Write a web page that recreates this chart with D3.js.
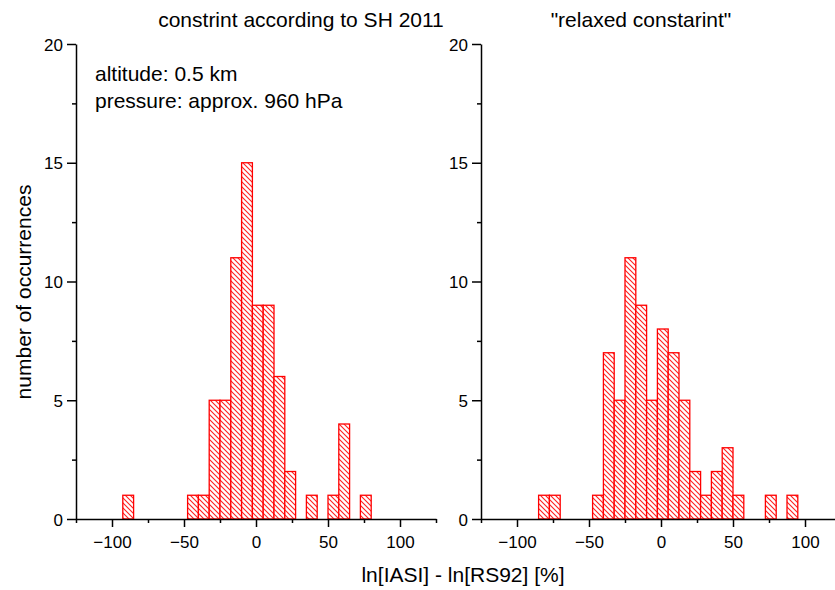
<!DOCTYPE html>
<html>
<head>
<meta charset="utf-8">
<script src="https://cdn.jsdelivr.net/npm/d3@7"></script>
<style>
html,body{margin:0;padding:0;background:#fff;}
text{font-family:"Liberation Sans",Arial,sans-serif;fill:#000;}
</style>
</head>
<body>
<svg id="chart" width="835" height="590"></svg>
<script>
// ---- data ----
const binWidth = 7.5;
const leftBinStart = [-92.5, -47.5, -40, -32.5, -25, -17.5, -10, -2.5, 5, 12.5, 20, 35, 50, 57.5, 72.5];
const leftCounts   = [1, 1, 1, 5, 5, 11, 15, 9, 9, 6, 2, 1, 1, 4, 1];
const rightBinStart = [-85, -77.5, -47.5, -40, -32.5, -25, -17.5, -10, -2.5, 5, 12.5, 20, 27.5, 35, 42.5, 50, 72.5, 87.5];
const rightCounts   = [1, 1, 1, 7, 5, 11, 9, 5, 8, 7, 5, 2, 1, 2, 3, 1, 1, 1];
const xMajorTicks = [-100, -50, 0, 50, 100];
const xMinorTicks = [-125, -75, -25, 25, 75, 125];
const yMajorTicks = [0, 5, 10, 15, 20];
const yMinorTicks = [2.5, 7.5, 12.5, 17.5];
const titles = ["constrint according to SH 2011", "\"relaxed constarint\""];
const annotation = ["altitude: 0.5 km", "pressure: approx. 960 hPa"];
const xLabel = "ln[IASI] - ln[RS92] [%]";
const yLabel = "number of occurrences";

const svg = d3.select("#chart");
const defs = svg.append("defs");
const pat = defs.append("pattern")
  .attr("id", "hatch").attr("patternUnits", "userSpaceOnUse")
  .attr("width", 5).attr("height", 5);
pat.append("rect").attr("width", 5).attr("height", 5).attr("fill", "#fff");
pat.append("path").attr("d", "M-1,-1 L6,6 M-1,4 L1,6 M4,-1 L6,1")
  .attr("stroke", "#ff2020").attr("stroke-width", 1.1);

const panels = [
  {x0: 76, x1: 436, starts: leftBinStart, counts: leftCounts, title: titles[0], tx: 301},
  {x0: 481, x1: 841, starts: rightBinStart, counts: rightCounts, title: titles[1], tx: 641}
];
const yTop = 44, yBot = 519;

panels.forEach((p, i) => {
  const x = d3.scaleLinear().domain([-125, 125]).range([p.x0, p.x1]);
  const y = d3.scaleLinear().domain([0, 20]).range([yBot, yTop]);
  const g = svg.append("g");
  const data = p.starts.map((s, k) => ({s, c: p.counts[k]}));
  g.selectAll("rect.bar").data(data).join("rect").attr("class", "bar")
    .attr("x", d => x(d.s))
    .attr("width", d => x(d.s + binWidth) - x(d.s))
    .attr("y", d => y(d.c))
    .attr("height", d => y(0) - y(d.c))
    .attr("fill", "url(#hatch)")
    .attr("stroke", "#ff0000").attr("stroke-width", 1.3);

  // x axis
  const xa = g.append("g").attr("transform", `translate(0,${yBot})`)
    .call(d3.axisBottom(x).tickValues(xMajorTicks).tickSize(8).tickSizeOuter(0).tickFormat(d3.format("d")));
  g.append("g").attr("transform", `translate(0,${yBot})`)
    .call(d3.axisBottom(x).tickValues(xMinorTicks).tickSize(4).tickSizeOuter(0).tickFormat(""))
    .select(".domain").remove();
  xa.selectAll("text").attr("dy", null).attr("y", 29).style("font-size", "17px");
  // y axis
  const ya = g.append("g").attr("transform", `translate(${p.x0},0)`)
    .call(d3.axisLeft(y).tickValues(yMajorTicks).tickSize(9).tickSizeOuter(0).tickFormat(d3.format("d")));
  g.append("g").attr("transform", `translate(${p.x0},0)`)
    .call(d3.axisLeft(y).tickValues(yMinorTicks).tickSize(4).tickSizeOuter(0).tickFormat(""))
    .select(".domain").remove();
  ya.selectAll("text").attr("x", -13).attr("dy", "0.36em").style("font-size", "17px");
  g.selectAll(".domain, .tick line").attr("stroke", "#000").attr("stroke-width", 1.5);

  svg.append("text").attr("x", p.tx).attr("y", 27).attr("text-anchor", "middle")
    .style("font-size", "21px").text(p.title);
});

svg.append("text").attr("x", 95).attr("y", 81).style("font-size", "21px").text(annotation[0]);
svg.append("text").attr("x", 95).attr("y", 108).style("font-size", "21px").text(annotation[1]);

svg.append("text").attr("x", 463).attr("y", 582).attr("text-anchor", "middle")
  .style("font-size", "21px").text(xLabel);
svg.append("text").attr("transform", "translate(31,292) rotate(-90)").attr("text-anchor", "middle")
  .style("font-size", "21px").text(yLabel);
</script>
</body>
</html>
